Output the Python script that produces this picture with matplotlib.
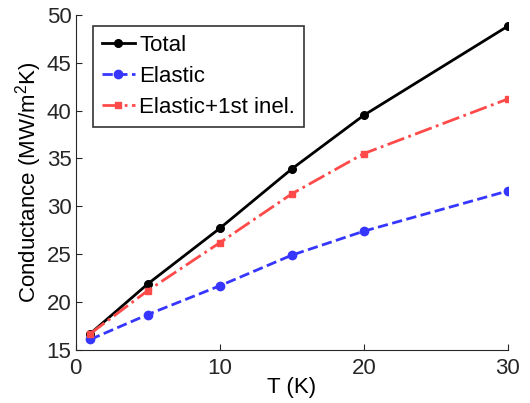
import numpy as np
import matplotlib
matplotlib.use("Agg")
import matplotlib.pyplot as plt

plt.rcParams['font.family'] = ['Liberation Sans', 'DejaVu Sans']
plt.rcParams['mathtext.fontset'] = 'custom'
plt.rcParams['mathtext.rm'] = 'Liberation Sans'

# data
T = [1, 5, 10, 15, 20, 30]
total = [16.7, 21.9, 27.7, 33.9, 39.5, 48.8]
elastic = [16.1, 18.7, 21.7, 24.9, 27.4, 31.6]
elastic_inel = [16.7, 21.2, 26.2, 31.3, 35.5, 41.2]

fig = plt.figure(figsize=(5.30, 4.03), dpi=100)
ax = fig.add_axes([0.143, 0.1315, 0.815, 0.832])

ax.plot(T, total, '-o', color='black', lw=2, ms=5.5, label='Total')
ax.plot(T, elastic, '--o', color='#3636ff', lw=2, ms=6, label='Elastic')
ax.plot(T, elastic_inel, '-.s', color='#ff4a4a', lw=2, ms=5, label='Elastic+1st inel.')

ax.set_xlim(0, 30)
ax.set_ylim(15, 50)
ax.set_xticks([0, 10, 20, 30])
ax.set_yticks(np.arange(15, 51, 5))
ax.tick_params(direction='in', length=4, labelsize=16, colors='#262626')
ax.tick_params(axis='y', pad=3)
ax.tick_params(axis='x', pad=6)
for s in ['top', 'right']:
    ax.spines[s].set_visible(False)
for s in ['left', 'bottom']:
    ax.spines[s].set_color('#262626')

ax.set_xlabel('T (K)', fontsize=16, labelpad=-2)
ax.set_ylabel('Conductance (MW/m$^2$K)', fontsize=16, labelpad=2)

leg = ax.legend(loc='upper left', bbox_to_anchor=(0.039, 0.966), fontsize=16,
                frameon=True, fancybox=False, edgecolor='black',
                handlelength=1.5, handletextpad=0.2, borderpad=0.4,
                labelspacing=0.45, borderaxespad=0)
leg.get_frame().set_linewidth(1.2)

fig.savefig('out.png', dpi=100)
